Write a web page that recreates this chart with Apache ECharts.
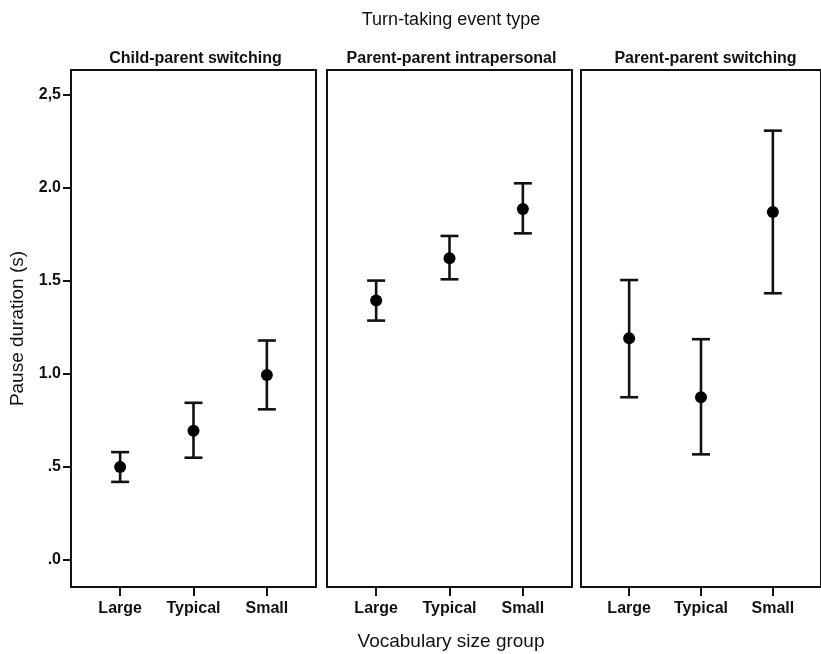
<!DOCTYPE html>
<html>
<head>
<meta charset="utf-8">
<script src="https://cdn.jsdelivr.net/npm/echarts@6/dist/echarts.min.js"></script>
<style>
html,body{margin:0;padding:0;background:#fff;}
#chart{width:821px;height:654px;}
</style>
</head>
<body>
<div id="chart"></div>
<script>
// ---- data ----
const categories = ['Large', 'Typical', 'Small'];
const panelTitles = ['Child-parent switching', 'Parent-parent intrapersonal', 'Parent-parent switching'];
const mainTitle = 'Turn-taking event type';
const xTitle = 'Vocabulary size group';
const yTitle = 'Pause duration (s)';
const yTickValues = [0, 0.5, 1, 1.5, 2, 2.5];
const yTickLabels = ['.0', '.5', '1.0', '1.5', '2.0', '2,5'];

const meanChildParent = [0.50, 0.695, 0.995];
const lowChildParent  = [0.42, 0.55, 0.81];
const highChildParent = [0.58, 0.845, 1.18];

const meanIntra = [1.395, 1.622, 1.887];
const lowIntra  = [1.287, 1.509, 1.756];
const highIntra = [1.502, 1.742, 2.025];

const meanParentSwitch = [1.192, 0.875, 1.871];
const lowParentSwitch  = [0.875, 0.568, 1.434];
const highParentSwitch = [1.505, 1.187, 2.308];

const means = [meanChildParent, meanIntra, meanParentSwitch];
const lows = [lowChildParent, lowIntra, lowParentSwitch];
const highs = [highChildParent, highIntra, highParentSwitch];

// ---- layout ----
const gridLefts = [71, 327, 581];
const gridTop = 70, gridHeight = 517, gridWidth = 245;
const narrow = '"Liberation Sans Narrow", "Arial Narrow", "Liberation Sans", Arial, sans-serif';
const sans = '"Liberation Sans", Arial, sans-serif';

const chart = echarts.init(document.getElementById('chart'), null, {renderer: 'canvas'});

const grids = [], xAxes = [], yAxes = [], series = [], titles = [];
titles.push({text: mainTitle, left: 446, top: 6, textAlign: 'center',
  textStyle: {fontFamily: sans, fontSize: 18, fontWeight: 'normal', color: '#111'}});
titles.push({text: xTitle, left: 446, top: 627, textAlign: 'center',
  textStyle: {fontFamily: sans, fontSize: 19, fontWeight: 'normal', color: '#111'}});

for (let p = 0; p < 3; p++) {
  grids.push({left: gridLefts[p], top: gridTop, width: gridWidth, height: gridHeight,
    show: true, borderColor: '#111', borderWidth: 2, backgroundColor: '#fff'});
  titles.push({text: panelTitles[p], left: gridLefts[p] + gridWidth / 2 - 3, top: 46, textAlign: 'center',
    textStyle: {fontFamily: narrow, fontSize: 16, fontWeight: 'bold', color: '#111'}});
  xAxes.push({type: 'value', gridIndex: p, min: -0.67, max: 2.67, position: 'bottom',
    axisLine: {show: true, onZero: false, lineStyle: {color: '#111', width: 2}},
    splitLine: {show: false},
    axisTick: {show: true, customValues: [0, 1, 2], length: 9, inside: false,
      lineStyle: {color: '#111', width: 2}},
    axisLabel: {show: true, customValues: [0, 1, 2], margin: 14,
      formatter: v => categories[Math.round(v)],
      fontFamily: narrow, fontSize: 16, fontWeight: 'bold', color: '#111'}});
  yAxes.push({type: 'value', gridIndex: p, min: -0.145, max: 2.634, position: 'left',
    axisLine: {show: true, onZero: false, lineStyle: {color: '#111', width: 2}},
    splitLine: {show: false},
    axisTick: {show: p === 0, customValues: yTickValues, length: 8,
      lineStyle: {color: '#111', width: 2}},
    axisLabel: {show: p === 0, customValues: yTickValues, margin: 10,
      formatter: v => yTickLabels[yTickValues.indexOf(Math.round(v * 10) / 10)],
      fontFamily: narrow, fontSize: 16, fontWeight: 'bold', color: '#111'},
    name: p === 0 ? yTitle : '', nameLocation: 'middle', nameGap: 44, nameRotate: 90,
    nameTextStyle: {fontFamily: sans, fontSize: 19, color: '#111'}});

  const errData = categories.map((c, i) => [i, lows[p][i], highs[p][i]]);
  series.push({type: 'custom', xAxisIndex: p, yAxisIndex: p, data: errData,
    renderItem: function (params, api) {
      const x = api.value(0);
      const lo = api.coord([x, api.value(1)]);
      const hi = api.coord([x, api.value(2)]);
      const hw = 9;
      const st = {stroke: '#111', lineWidth: 2.6};
      return {type: 'group', children: [
        {type: 'line', shape: {x1: lo[0], y1: lo[1], x2: hi[0], y2: hi[1]}, style: st},
        {type: 'line', shape: {x1: lo[0] - hw, y1: lo[1], x2: lo[0] + hw, y2: lo[1]}, style: st},
        {type: 'line', shape: {x1: hi[0] - hw, y1: hi[1], x2: hi[0] + hw, y2: hi[1]}, style: st}
      ]};
    }, silent: true, z: 2});
  series.push({type: 'scatter', xAxisIndex: p, yAxisIndex: p,
    data: categories.map((c, i) => [i, means[p][i]]),
    symbol: 'circle', symbolSize: 12, itemStyle: {color: '#000', opacity: 1}, z: 3, silent: true});
}

chart.setOption({
  animation: false,
  backgroundColor: '#fff',
  title: titles,
  grid: grids,
  xAxis: xAxes,
  yAxis: yAxes,
  series: series
});
</script>
</body>
</html>
